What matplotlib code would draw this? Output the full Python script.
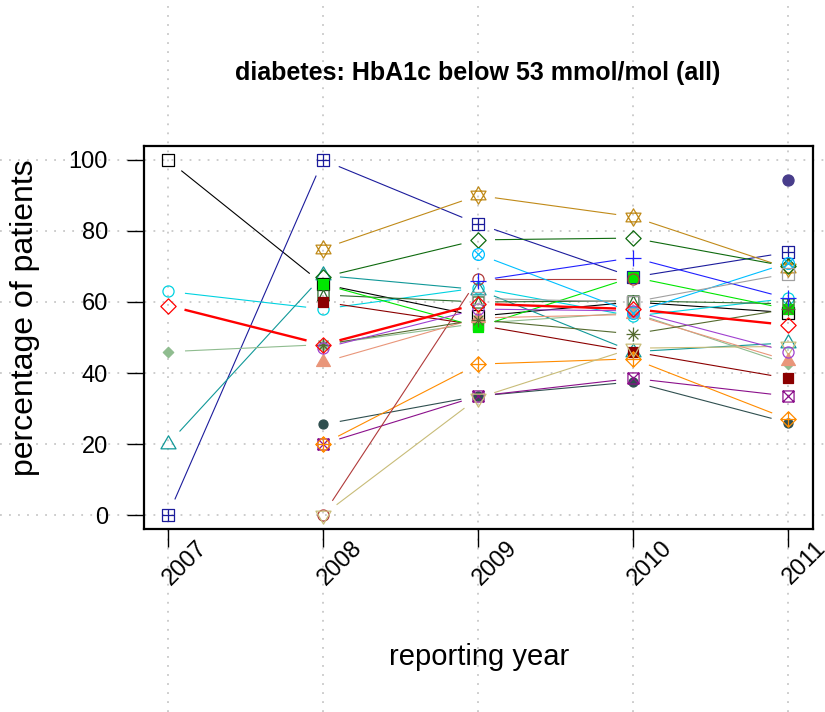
import numpy as np
import matplotlib
matplotlib.use("Agg")
import matplotlib.pyplot as plt
import matplotlib.transforms as mtransforms
from matplotlib.lines import Line2D
from matplotlib.path import Path

plt.rcParams['font.family'] = ['Liberation Sans', 'DejaVu Sans']

nan = np.nan
years = [2007, 2008, 2009, 2010, 2011]
yticks = [0, 20, 40, 60, 80, 100]

# percentage of patients per practice, one list per practice
black_sq = [100, 65, 56, 60, 57]
navy_sqplus = [0, 100, 82, 67, 74]
cyan_circ = [63, 58, 64, 56, 61]
teal_tri = [20, 67.5, 63.5, 46, 48.5]
seagreen_dia = [46, 48, 54, 57, 42.5]
gold_star = [nan, 75, 90, 84, 69.5]
dkgreen_dia = [nan, 67, 77.5, 78, 70]
dkgreen_sqtri = [nan, 62, 60, 60.3, 59.5]
dkred_sq = [nan, 60, 53.5, 46, 38.5]
lime_sq = [nan, 65, 53, 67, 58]
slate_dot = [nan, 25.5, 33.5, 37.5, 26]
purple_boxx = [nan, 20, 33.5, 38.5, 33.5]
orange_diaplus = [nan, 20, 42.5, 44, 27]
brown_circ = [nan, 0, 66.5, 66.5, nan]
tan_tri = [nan, 0, 33, 47, 47.5]
salmon_tri = [nan, 43, 55.5, 56.5, 43.5]
olive_ast = [nan, 48, 55, 51, 58]
orchid_circ = [nan, 47, 58, 57.5, 46]
skyblue_cx = [nan, nan, 73.5, 57, 71]
blue_plus = [nan, nan, 66, 72.5, 61]
gray_sq = [nan, nan, 61, 60, 68]
slateblue_dot = [nan, nan, nan, nan, 94.5]
red_dia = [59, 48, 59.5, 58, 53.5]


def seg(*pts):
    return Path(pts, [Path.MOVETO] + [Path.LINETO] * (len(pts) - 1))


def closed(*pts):
    return Path(list(pts) + [pts[0]],
                [Path.MOVETO] + [Path.LINETO] * (len(pts) - 1) + [Path.CLOSEPOLY])


def compound(*parts):
    return Path.make_compound_path(*parts)


SQUARE = closed((-1, -1), (1, -1), (1, 1), (-1, 1))
CIRCLE = Path.unit_circle()
PLUS = compound(seg((0, -1), (0, 1)), seg((-1, 0), (1, 0)))
CROSS = compound(seg((-1, -1), (1, 1)), seg((-1, 1), (1, -1)))
DIAMOND = closed((0, 1), (1, 0), (0, -1), (-1, 0))
TRI_UP = closed((0, 1.155), (-1, -0.577), (1, -0.577))
TRI_DOWN = closed((0, -1.155), (-1, 0.577), (1, 0.577))
r = 0.707
symbols = {
    0: (SQUARE, False),
    1: (CIRCLE, False),
    2: (TRI_UP, False),
    3: (PLUS, False),
    5: (DIAMOND, False),
    6: (TRI_DOWN, False),
    7: (compound(SQUARE, CROSS), False),
    8: (compound(PLUS, seg((-r, -r), (r, r)), seg((-r, r), (r, -r))), False),
    9: (compound(DIAMOND, PLUS), False),
    11: (compound(closed((0, 1), (-0.866, -0.5), (0.866, -0.5)),
                  closed((0, -1), (-0.866, 0.5), (0.866, 0.5))), False),
    12: (compound(SQUARE, PLUS), False),
    13: (compound(CIRCLE, seg((-r, -r), (r, r)), seg((-r, r), (r, -r))), False),
    14: (compound(SQUARE, seg((-1, -1), (0, 1), (1, -1))), False),
    15: (SQUARE, True),
    17: (TRI_UP, True),
    18: (DIAMOND, True),
    19: (CIRCLE, True),
}

series = [
    (black_sq, 'black', 0, 8, 0.8),
    (navy_sqplus, '#1c1c9c', 12, 8, 0.8),
    (cyan_circ, '#00d2e0', 1, 8, 0.8),
    (teal_tri, '#109898', 2, 12.5, 0.8),
    (seagreen_dia, '#8fbc8f', 18, 7.5, 0.8),
    (gold_star, '#c08a18', 11, 12.5, 0.8),
    (dkgreen_dia, '#0e6a0e', 5, 11, 0.8),
    (dkgreen_sqtri, '#2e6b2e', 14, 8, 0.8),
    (dkred_sq, '#8b0000', 15, 7, 0.8),
    (lime_sq, '#00e600', 15, 7, 0.8),
    (slate_dot, '#2f4f4f', 19, 6.5, 0.8),
    (purple_boxx, '#8b108b', 7, 8, 0.8),
    (orange_diaplus, '#ff8c00', 9, 11, 0.8),
    (brown_circ, '#b03a3a', 1, 8, 0.8),
    (tan_tri, '#c8bc78', 6, 12.5, 0.8),
    (salmon_tri, '#e9967a', 17, 11.5, 0.8),
    (olive_ast, '#556b2f', 8, 10, 0.8),
    (orchid_circ, '#a040d0', 1, 8, 0.8),
    (skyblue_cx, '#00bfff', 13, 8.5, 0.8),
    (blue_plus, '#2020ff', 3, 11, 0.8),
    (gray_sq, '#a0a0a0', 0, 8, 0.8),
    (slateblue_dot, '#483d8b', 19, 8, 0.8),
    (red_dia, '#ff0000', 5, 11, 1.7),
]

fig = plt.figure(figsize=(8.25, 7.12), dpi=100)
W, H = 825, 712
ax = fig.add_axes([144 / W, 1 - 529 / H, (813 - 144) / W, (529 - 146) / H])
ax.set_xlim(2006.845, 2011.161)
ax.set_ylim(-3.94, 103.94)
ax.patch.set_visible(False)

# dotted guide lines running across the whole figure
grid_kw = dict(color='#c8c8c8', lw=1.3, ls=(0, (1, 4)), zorder=-1)
for yv in yticks:
    fig.add_artist(Line2D([0, 1], [yv, yv], transform=mtransforms.blended_transform_factory(
        fig.transFigure, ax.transData), **grid_kw))
for yr in years:
    fig.add_artist(Line2D([yr, yr], [0, 1], transform=mtransforms.blended_transform_factory(
        ax.transData, fig.transFigure), **grid_kw))

gap = 17  # pixels left open around each point


def draw_series(values, color, pch, ms, lw):
    x = np.array(years, float)
    y = np.array(values, float)
    pts = ax.transData.transform(np.column_stack([x, np.nan_to_num(y)]))
    inv = ax.transData.inverted()
    for i in range(len(x) - 1):
        if np.isnan(y[i]) or np.isnan(y[i + 1]):
            continue
        d = pts[i + 1] - pts[i]
        length = np.hypot(*d)
        if length <= 2 * gap:
            continue
        u = d / length
        a, b = inv.transform([pts[i] + u * gap, pts[i + 1] - u * gap])
        ax.plot([a[0], b[0]], [a[1], b[1]], color=color, lw=lw, solid_capstyle='butt')
    path, filled = symbols[pch]
    ax.plot(x, y, ls='none', marker=path, ms=ms, mec=color, mew=0.9,
            mfc=color if filled else 'none')


for values, color, pch, ms, lw in series:
    draw_series(values, color, pch, ms, lw)

for s in ax.spines.values():
    s.set_linewidth(1.6)

ax.set_yticks(yticks)
ax.set_yticklabels([str(v) for v in yticks])
ax.tick_params(axis='y', length=12, width=1, pad=14, labelsize=17)
ax.set_xticks(years)
ax.set_xticklabels([])
ax.tick_params(axis='x', length=13, width=1)

offset = mtransforms.ScaledTranslation(17 / 100, -34 / 100, fig.dpi_scale_trans)
for yr in years:
    ax.text(yr, 0, str(yr), transform=ax.get_xaxis_transform() + offset,
            rotation=45, ha='center', va='center', fontsize=17)

fig.text(478 / W, 1 - 73 / H, 'diabetes: HbA1c below 53 mmol/mol (all)',
         ha='center', va='center', fontsize=18, fontweight='bold')
fig.text(479 / W, 1 - 657 / H, 'reporting year', ha='center', va='center', fontsize=21)
fig.text(25 / W, 1 - 318 / H, 'percentage of patients', ha='center', va='center',
         rotation=90, fontsize=23)

fig.savefig('out.png', dpi=100)
